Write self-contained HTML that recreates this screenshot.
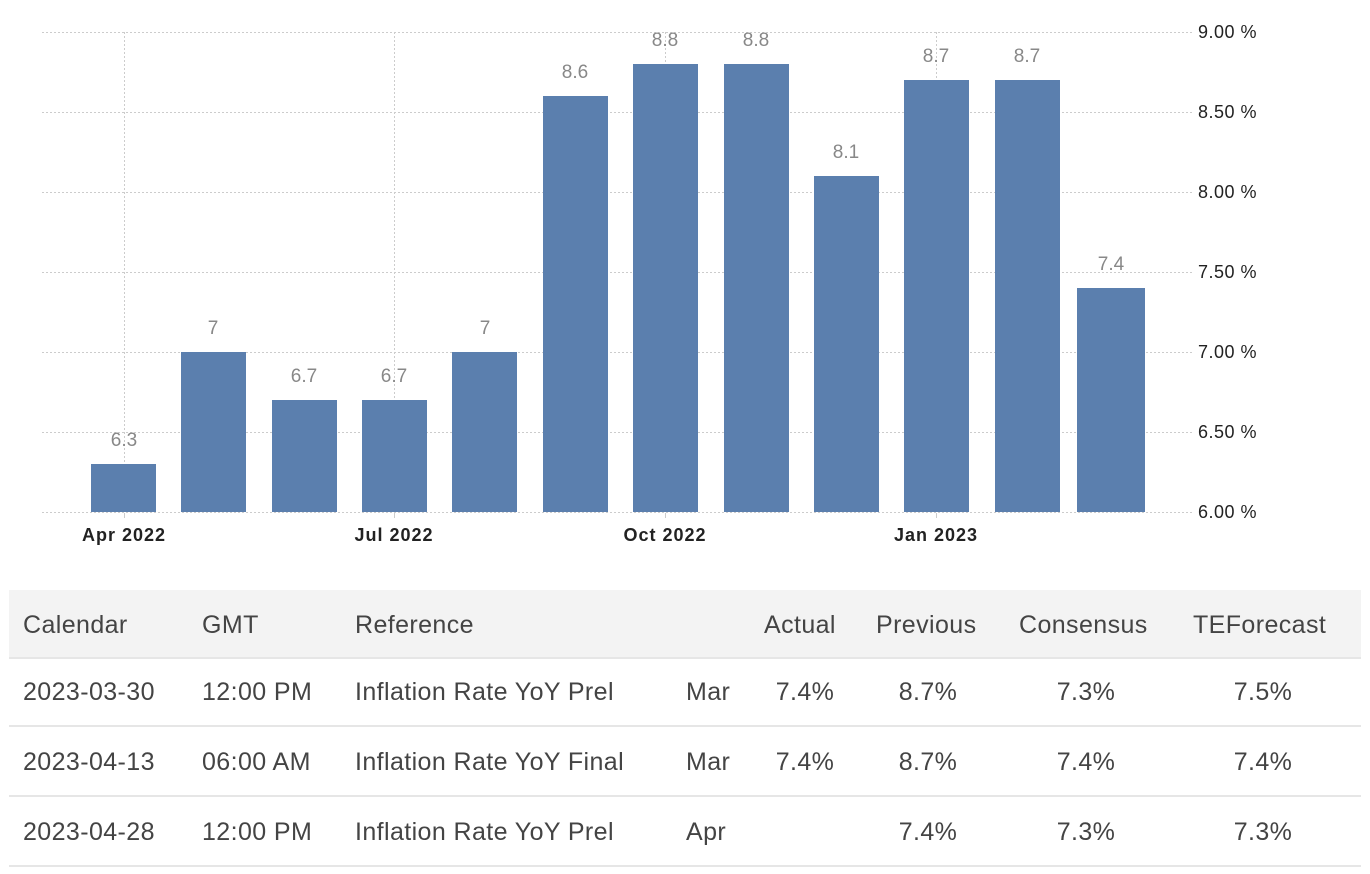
<!DOCTYPE html>
<html><head><style>
body{margin:0;width:1370px;height:874px;background:#fff;overflow:hidden;font-family:"Liberation Sans",sans-serif;}
svg{position:absolute;left:0;top:0}
.t{position:absolute;left:9px;top:590px;width:1352px;}
.r{position:absolute;left:0;width:1352px;height:70px;border-bottom:2px solid #e6e6e6;}
.h{background:#f3f3f3;top:0;height:67px}
.c{position:absolute;top:0;line-height:70px;font-size:25px;color:#444;white-space:nowrap;letter-spacing:0.4px}
.n{text-align:center;width:100px}
</style></head><body>
<svg width="1370" height="580" font-family="Liberation Sans, sans-serif">
<g stroke="#ccc" stroke-dasharray="2,2" stroke-width="1">
<line x1="42" x2="1192" y1="32.5" y2="32.5"/><line x1="42" x2="1192" y1="112.5" y2="112.5"/>
<line x1="42" x2="1192" y1="192.5" y2="192.5"/><line x1="42" x2="1192" y1="272.5" y2="272.5"/>
<line x1="42" x2="1192" y1="352.5" y2="352.5"/><line x1="42" x2="1192" y1="432.5" y2="432.5"/>
<line x1="42" x2="1192" y1="512.5" y2="512.5"/>
<line x1="124.5" x2="124.5" y1="32" y2="512"/><line x1="394.5" x2="394.5" y1="32" y2="512"/>
<line x1="665.5" x2="665.5" y1="32" y2="512"/><line x1="936.5" x2="936.5" y1="32" y2="512"/>
</g>
<g stroke="#ccc"><line x1="124.5" x2="124.5" y1="513" y2="518"/><line x1="394.5" x2="394.5" y1="513" y2="518"/><line x1="665.5" x2="665.5" y1="513" y2="518"/><line x1="936.5" x2="936.5" y1="513" y2="518"/></g>
<g fill="#5b7fae">
<rect x="91" y="464" width="65" height="48"/>
<rect x="181" y="352" width="65" height="160"/>
<rect x="272" y="400" width="65" height="112"/>
<rect x="362" y="400" width="65" height="112"/>
<rect x="452" y="352" width="65" height="160"/>
<rect x="543" y="96" width="65" height="416"/>
<rect x="633" y="64" width="65" height="448"/>
<rect x="724" y="64" width="65" height="448"/>
<rect x="814" y="176" width="65" height="336"/>
<rect x="904" y="80" width="65" height="432"/>
<rect x="995" y="80" width="65" height="432"/>
<rect x="1077" y="288" width="68" height="224"/>
</g>
<g fill="#888" font-size="19" text-anchor="middle">
<text x="124" y="446">6.3</text><text x="213" y="334">7</text><text x="304" y="382">6.7</text><text x="394" y="382">6.7</text>
<text x="485" y="334">7</text><text x="575" y="78">8.6</text><text x="665" y="46">8.8</text><text x="756" y="46">8.8</text>
<text x="846" y="158">8.1</text><text x="936" y="62">8.7</text><text x="1027" y="62">8.7</text><text x="1111" y="270">7.4</text>
</g>
<g fill="#222" font-size="18" letter-spacing="0.5">
<text x="1198" y="38">9.00 %</text><text x="1198" y="118">8.50 %</text><text x="1198" y="198">8.00 %</text><text x="1198" y="278">7.50 %</text>
<text x="1198" y="358">7.00 %</text><text x="1198" y="438">6.50 %</text><text x="1198" y="518">6.00 %</text>
</g>
<g fill="#222" font-size="18" text-anchor="middle" letter-spacing="1" font-weight="bold">
<text x="124" y="541">Apr 2022</text><text x="394" y="541">Jul 2022</text><text x="665" y="541">Oct 2022</text><text x="936" y="541">Jan 2023</text>
</g>
</svg>
<div class="t">
<div class="r h"><span class="c" style="left:14px">Calendar</span><span class="c" style="left:193px">GMT</span><span class="c" style="left:346px">Reference</span><span class="c" style="left:755px">Actual</span><span class="c" style="left:867px">Previous</span><span class="c" style="left:1010px">Consensus</span><span class="c" style="left:1184px">TEForecast</span></div>
<div class="r" style="top:67px;height:68px"><span class="c" style="left:14px">2023-03-30</span><span class="c" style="left:193px">12:00 PM</span><span class="c" style="left:346px">Inflation Rate YoY Prel</span><span class="c" style="left:677px">Mar</span><span class="c n" style="left:746px">7.4%</span><span class="c n" style="left:869px">8.7%</span><span class="c n" style="left:1027px">7.3%</span><span class="c n" style="left:1204px">7.5%</span></div>
<div class="r" style="top:137px;height:68px"><span class="c" style="left:14px">2023-04-13</span><span class="c" style="left:193px">06:00 AM</span><span class="c" style="left:346px">Inflation Rate YoY Final</span><span class="c" style="left:677px">Mar</span><span class="c n" style="left:746px">7.4%</span><span class="c n" style="left:869px">8.7%</span><span class="c n" style="left:1027px">7.4%</span><span class="c n" style="left:1204px">7.4%</span></div>
<div class="r" style="top:207px;height:68px"><span class="c" style="left:14px">2023-04-28</span><span class="c" style="left:193px">12:00 PM</span><span class="c" style="left:346px">Inflation Rate YoY Prel</span><span class="c" style="left:677px">Apr</span><span class="c n" style="left:869px">7.4%</span><span class="c n" style="left:1027px">7.3%</span><span class="c n" style="left:1204px">7.3%</span></div>
</div>
</body></html>
